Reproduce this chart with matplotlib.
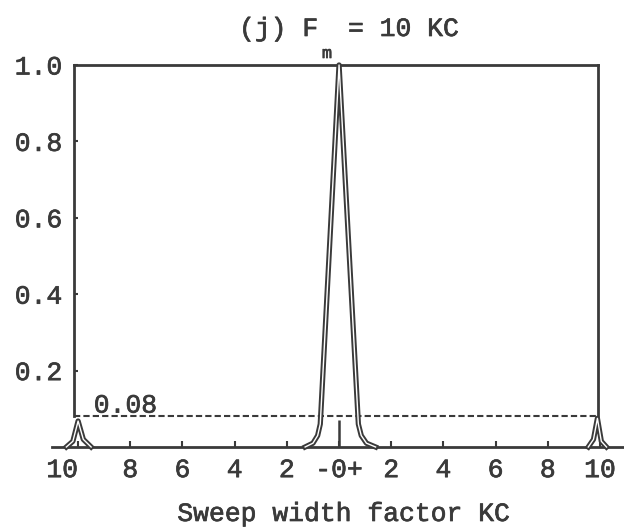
import matplotlib
matplotlib.use('Agg')
import matplotlib.pyplot as plt
import matplotlib.patheffects as pe

# values
peak_x = [-1.3, -1.0, -0.82, -0.72, 0.0, 0.74, 0.85, 1.05, 1.4]
peak_y = [0.0, 0.01, 0.03, 0.06, 1.0, 0.06, 0.03, 0.01, 0.0]
left_x = [-10.45, -10.2, -10.0, -9.8, -9.5]
left_y = [0.0, 0.015, 0.068, 0.02, 0.0]
right_x = [9.55, 9.75, 9.9, 10.05, 10.25]
right_y = [0.0, 0.02, 0.075, 0.015, 0.0]

level = 0.08          # dashed reference level
center_mark = 0.07    # height of the mark at zero
y_ticks = [0.2, 0.4, 0.6, 0.8, 1.0]
y_labels = ['0.2', '0.4', '0.6', '0.8', '1.0']
x_ticks = [-10, -8, -6, -4, -2, 0, 2, 4, 6, 8, 10]
x_labels = ['10', '8', '6', '4', '2', '-0+', '2', '4', '6', '8', '10']
box_left, box_right = -10.15, 9.92

ink = '#3a3a3a'
plt.rcParams['font.family'] = ['Liberation Mono', 'DejaVu Sans']
plt.rcParams['text.color'] = ink
plt.rcParams['xtick.color'] = ink
plt.rcParams['ytick.color'] = ink
# typewriter ink is a bit heavier than Liberation Mono
heavy = [pe.withStroke(linewidth=0.5, foreground=ink)]

fig = plt.figure(figsize=(6.24, 5.30), dpi=100)
ax = fig.add_axes([52/624, 83/530, 571.5/624, 382/530])
ax.set_xlim(-11.0, 10.9)
ax.set_ylim(0, 1.0)

# box: top + two sides from the 0.08 level up, baseline full width
for s in ax.spines.values():
    s.set_color(ink)
    s.set_linewidth(2)
ax.spines['left'].set_position(('data', box_left))
ax.spines['left'].set_bounds(level, 1.0)
ax.spines['right'].set_position(('data', box_right))
ax.spines['right'].set_bounds(level, 1.0)
ax.spines['top'].set_bounds(box_left, box_right)

ax.set_yticks(y_ticks)
ax.set_yticklabels(y_labels)
ax.set_xticks(x_ticks)
ax.set_xticklabels(x_labels)
ax.tick_params(axis='y', direction='in', length=3, width=1.5, pad=8.5,
               labelsize=19, right=False)
ax.tick_params(axis='x', direction='in', length=4, width=1.5, pad=8,
               labelsize=19, top=False)
for lab in ax.get_xticklabels() + ax.get_yticklabels():
    lab.set_path_effects(heavy)
ax.get_xticklabels()[0].set_ha('right')

ax.hlines(level, box_left, box_right, colors=ink, linewidth=1.5,
          linestyles=(0, (3, 1.5)))
ax.vlines(0, 0, center_mark, colors=ink, linewidth=1.8)
ax.text(-9.4, level + 0.01, '0.08', fontsize=19, va='baseline',
        path_effects=heavy)

hollow = [pe.Stroke(linewidth=3.8, foreground=ink), pe.Normal()]
for xs, ys in [(peak_x, peak_y), (left_x, left_y), (right_x, right_y)]:
    ax.plot(xs, ys, color='white', linewidth=1.0, path_effects=hollow,
            solid_joinstyle='round', clip_on=False, zorder=3)

# title with the lowered "m" subscript
fig.text(239/624, 1 - 36/530, '(j) F', fontsize=19, va='baseline',
         path_effects=heavy)
fig.text(322/624, 1 - 58/530, 'm', fontsize=12, va='baseline',
         path_effects=heavy)
fig.text(348/624, 1 - 36/530, '= 10 KC', fontsize=19, va='baseline',
         path_effects=heavy)

fig.text(344/624, 1 - 521/530, 'Sweep width factor KC', fontsize=19,
         ha='center', va='baseline', path_effects=heavy)

fig.savefig('out.png', dpi=100)
